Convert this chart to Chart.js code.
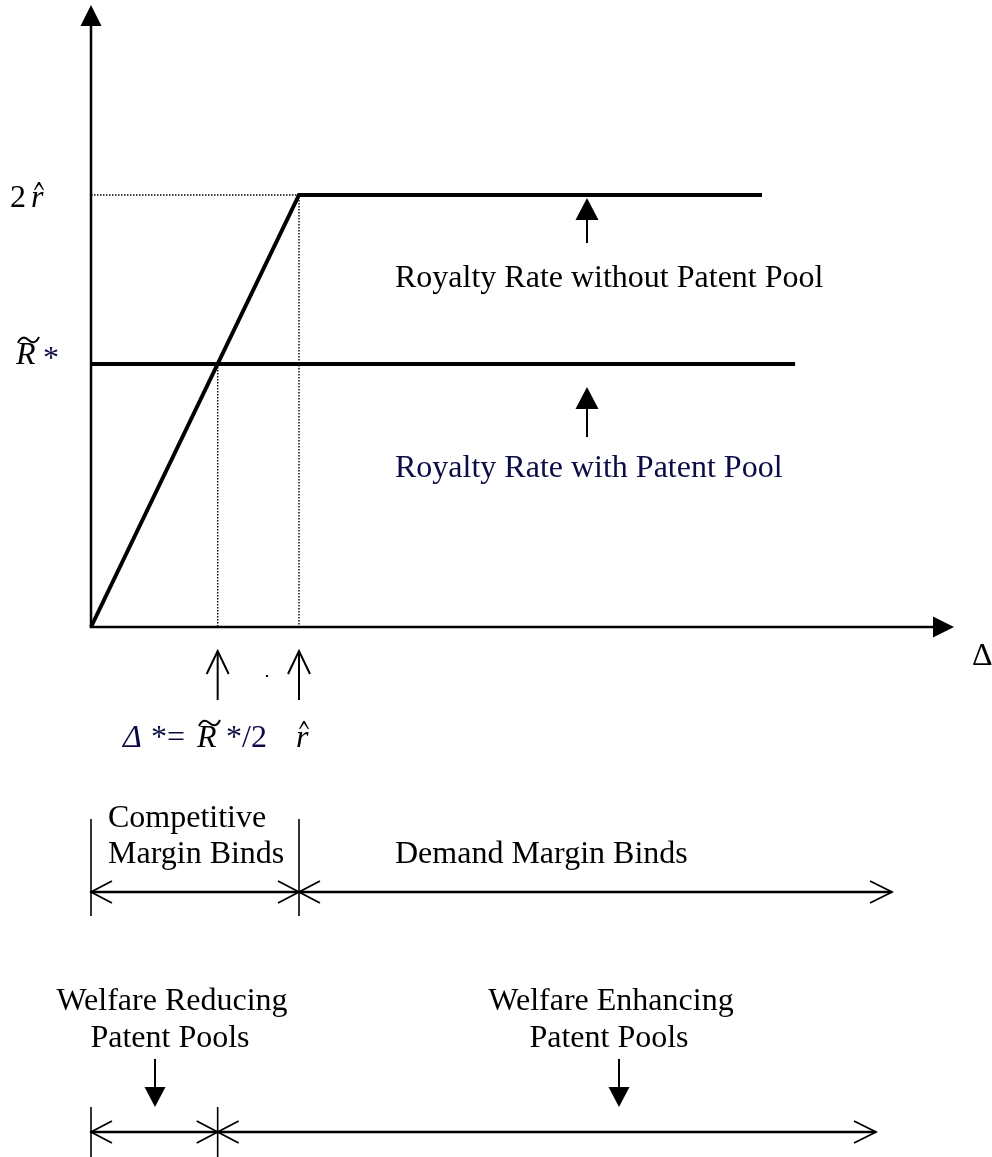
<!DOCTYPE html>
<html>
<head>
<meta charset="utf-8">
<script src="https://cdn.jsdelivr.net/npm/chart.js@4.4.0/dist/chart.umd.min.js"></script>
<style>
  html, body { margin: 0; padding: 0; background: #fff; }
  canvas { display: block; }
</style>
</head>
<body>
<canvas id="poolChart" width="992" height="1157"></canvas>
<script>
// Royalty rate against Delta, in units where r-hat = 1
const rHat = 1;
const rTildeStar = 1.218;
const deltaStar = 0.609;

const withoutDelta = [0, 1, 3.226];
const withoutRate = [0, 2, 2];
const withDelta = [0, 3.385];
const withRate = [1.218, 1.218];

// regions shown under the Delta axis
const bindLabels = [["Competitive", "Margin Binds"], ["Demand Margin Binds"]];
const bindBounds = [0, 1, 3.851];
const welfareLabels = [["Welfare Reducing", "Patent Pools"], ["Welfare Enhancing", "Patent Pools"]];
const welfareBounds = [0, 0.609, 3.774];

const SERIF = '"Liberation Serif", "Times New Roman", serif';
const NAVY = "#0b0b45";

function pts(xs, ys) {
  return xs.map((x, i) => ({ x: x, y: ys[i] }));
}

function seg(ctx, x1, y1, x2, y2, w) {
  ctx.lineWidth = w;
  ctx.beginPath();
  ctx.moveTo(x1, y1);
  ctx.lineTo(x2, y2);
  ctx.stroke();
}

// filled head, tip at (x,y), pointing along (dx,dy)
function solidHead(ctx, x, y, dx, dy, len, half) {
  ctx.beginPath();
  ctx.moveTo(x, y);
  ctx.lineTo(x - dx * len - dy * half, y - dy * len + dx * half);
  ctx.lineTo(x - dx * len + dy * half, y - dy * len - dx * half);
  ctx.closePath();
  ctx.fill();
}

function openHead(ctx, x, y, dx, dy, len, half, w) {
  ctx.lineWidth = w;
  ctx.beginPath();
  ctx.moveTo(x - dx * len - dy * half, y - dy * len + dx * half);
  ctx.lineTo(x, y);
  ctx.lineTo(x - dx * len + dy * half, y - dy * len - dx * half);
  ctx.stroke();
}

function txt(ctx, s, x, y, opts) {
  opts = opts || {};
  ctx.font = (opts.italic ? "italic " : "") + (opts.size || 32) + "px " + SERIF;
  ctx.fillStyle = opts.color || "#000";
  ctx.textAlign = opts.align || "left";
  ctx.textBaseline = "alphabetic";
  ctx.fillText(s, x, y);
}

// circumflex drawn as a small wedge
function hat(ctx, cx, y, color) {
  ctx.fillStyle = color || "#000";
  ctx.beginPath();
  ctx.moveTo(cx - 5, y + 8);
  ctx.lineTo(cx - 0.8, y);
  ctx.lineTo(cx + 0.8, y);
  ctx.lineTo(cx + 5, y + 8);
  ctx.lineTo(cx + 3.8, y + 8);
  ctx.lineTo(cx, y + 2.5);
  ctx.lineTo(cx - 3.8, y + 8);
  ctx.closePath();
  ctx.fill();
}

function tilde(ctx, x0, y0, w, color) {
  ctx.strokeStyle = color || "#000";
  ctx.lineWidth = 2;
  ctx.beginPath();
  ctx.moveTo(x0, y0 + 3);
  ctx.bezierCurveTo(x0 + w * 0.15, y0 - 4, x0 + w * 0.35, y0 - 3, x0 + w * 0.5, y0);
  ctx.bezierCurveTo(x0 + w * 0.65, y0 + 3, x0 + w * 0.85, y0 + 4, x0 + w, y0 - 3);
  ctx.stroke();
}

function doubleArrowRow(ctx, xs, bounds, y, top, bottom) {
  const a = xs.getPixelForValue(bounds[0]);
  const b = xs.getPixelForValue(bounds[1]);
  const c = xs.getPixelForValue(bounds[2]);
  ctx.strokeStyle = "#000";
  seg(ctx, a, top, a, bottom, 1.6);
  seg(ctx, b, top, b, bottom, 1.6);
  seg(ctx, a, y, c, y, 2.4);
  openHead(ctx, a, y, -1, 0, 21, 11, 1.8);
  openHead(ctx, b, y, 1, 0, 21, 11, 1.8);
  openHead(ctx, b, y, -1, 0, 21, 11, 1.8);
  openHead(ctx, c, y, 1, 0, 22, 11, 1.8);
}

const annotations = {
  id: "annotations",
  afterDatasetsDraw(chart) {
    const ctx = chart.ctx;
    const xs = chart.scales.x;
    const ys = chart.scales.y;
    const ox = xs.getPixelForValue(0);
    const oy = ys.getPixelForValue(0);
    ctx.save();
    ctx.fillStyle = "#000";
    ctx.strokeStyle = "#000";

    // axis heads
    solidHead(ctx, ox, 5, 0, -1, 21, 10.5);
    solidHead(ctx, 954, oy, 1, 0, 21, 10.5);
    txt(ctx, "\u0394", 972, 665);

    // y labels
    const yTop = ys.getPixelForValue(2 * rHat);
    txt(ctx, "2", 10, yTop + 12);
    txt(ctx, "r", 31, yTop + 12, { italic: true });
    hat(ctx, 39, yTop - 13);
    const yR = ys.getPixelForValue(rTildeStar);
    txt(ctx, "R", 16, yR, { italic: true });
    tilde(ctx, 18, yR - 24, 21);
    txt(ctx, "*", 43, yR + 4, { color: NAVY });

    // series callouts
    const cx = 587;
    ctx.fillStyle = "#000";
    seg(ctx, cx, 219, cx, 243, 2);
    solidHead(ctx, cx, 198, 0, -1, 22, 11.5);
    txt(ctx, "Royalty Rate without Patent Pool", 395, 287);
    ctx.fillStyle = "#000";
    seg(ctx, cx, 408, cx, 437, 2);
    solidHead(ctx, cx, 387, 0, -1, 22, 11.5);
    txt(ctx, "Royalty Rate with Patent Pool", 395, 477, { color: NAVY });

    // x markers
    const xd = xs.getPixelForValue(deltaStar);
    const xr = xs.getPixelForValue(rHat);
    ctx.strokeStyle = "#000";
    [xd, xr].forEach(function (x) {
      seg(ctx, x, 651, x, 700, 2);
      openHead(ctx, x, 651, 0, -1, 23, 11, 2);
    });
    ctx.fillStyle = "#000";
    ctx.fillRect(266, 675, 2, 2);

    txt(ctx, "\u0394", 123, 747, { italic: true, color: NAVY });
    txt(ctx, "*=", 151, 747, { color: NAVY });
    txt(ctx, "R", 197, 747, { italic: true });
    tilde(ctx, 199, 723, 21);
    txt(ctx, "*/2", 226, 747, { color: NAVY });
    txt(ctx, "r", 296, 747, { italic: true });
    hat(ctx, 304, 721);

    // binding margins row
    doubleArrowRow(ctx, xs, bindBounds, 892, 819, 916);
    txt(ctx, bindLabels[0][0], 108, 827);
    txt(ctx, bindLabels[0][1], 108, 863);
    txt(ctx, bindLabels[1][0], 395, 863);

    // welfare row
    doubleArrowRow(ctx, xs, welfareBounds, 1132, 1107, 1160);
    txt(ctx, welfareLabels[0][0], 172, 1010, { align: "center" });
    txt(ctx, welfareLabels[0][1], 170, 1047, { align: "center" });
    txt(ctx, welfareLabels[1][0], 611, 1010, { align: "center" });
    txt(ctx, welfareLabels[1][1], 609, 1047, { align: "center" });
    ctx.fillStyle = "#000";
    [155, 619].forEach(function (x) {
      seg(ctx, x, 1059, x, 1088, 2);
      solidHead(ctx, x, 1107, 0, 1, 20, 10.5);
    });

    ctx.restore();
  },
};

document.addEventListener("DOMContentLoaded", function () {
  const ctx = document.getElementById("poolChart").getContext("2d");

  new Chart(ctx, {
    type: "scatter",
    data: {
      datasets: [
        {
          label: "Royalty Rate without Patent Pool",
          data: pts(withoutDelta, withoutRate),
          showLine: true,
          borderColor: "#000",
          borderWidth: 4,
          pointRadius: 0,
        },
        {
          label: "Royalty Rate with Patent Pool",
          data: pts(withDelta, withRate),
          showLine: true,
          borderColor: "#000",
          borderWidth: 4,
          pointRadius: 0,
        },
        {
          label: "guide r",
          data: [
            { x: 0, y: 2 * rHat },
            { x: rHat, y: 2 * rHat },
            { x: rHat, y: 0 },
          ],
          showLine: true,
          borderColor: "#000",
          borderWidth: 1.4,
          borderDash: [1.5, 1.5],
          pointRadius: 0,
        },
        {
          label: "guide delta",
          data: [
            { x: deltaStar, y: rTildeStar },
            { x: deltaStar, y: 0 },
          ],
          showLine: true,
          borderColor: "#000",
          borderWidth: 1.4,
          borderDash: [1.5, 1.5],
          pointRadius: 0,
        },
        {
          label: "axes",
          data: [
            { x: 0, y: 2.8 },
            { x: 0, y: 0 },
            { x: 4.06, y: 0 },
          ],
          showLine: true,
          borderColor: "#000",
          borderWidth: 2.5,
          pointRadius: 0,
        },
      ],
    },
    options: {
      responsive: false,
      animation: false,
      events: [],
      layout: { padding: 0 },
      plugins: {
        legend: { display: false },
        tooltip: { enabled: false },
      },
      scales: {
        x: { type: "linear", min: -0.4375, max: 4.3317, display: false },
        y: { type: "linear", min: -2.4537, max: 2.9028, display: false },
      },
    },
    plugins: [annotations],
  });
});
</script>
</body>
</html>
